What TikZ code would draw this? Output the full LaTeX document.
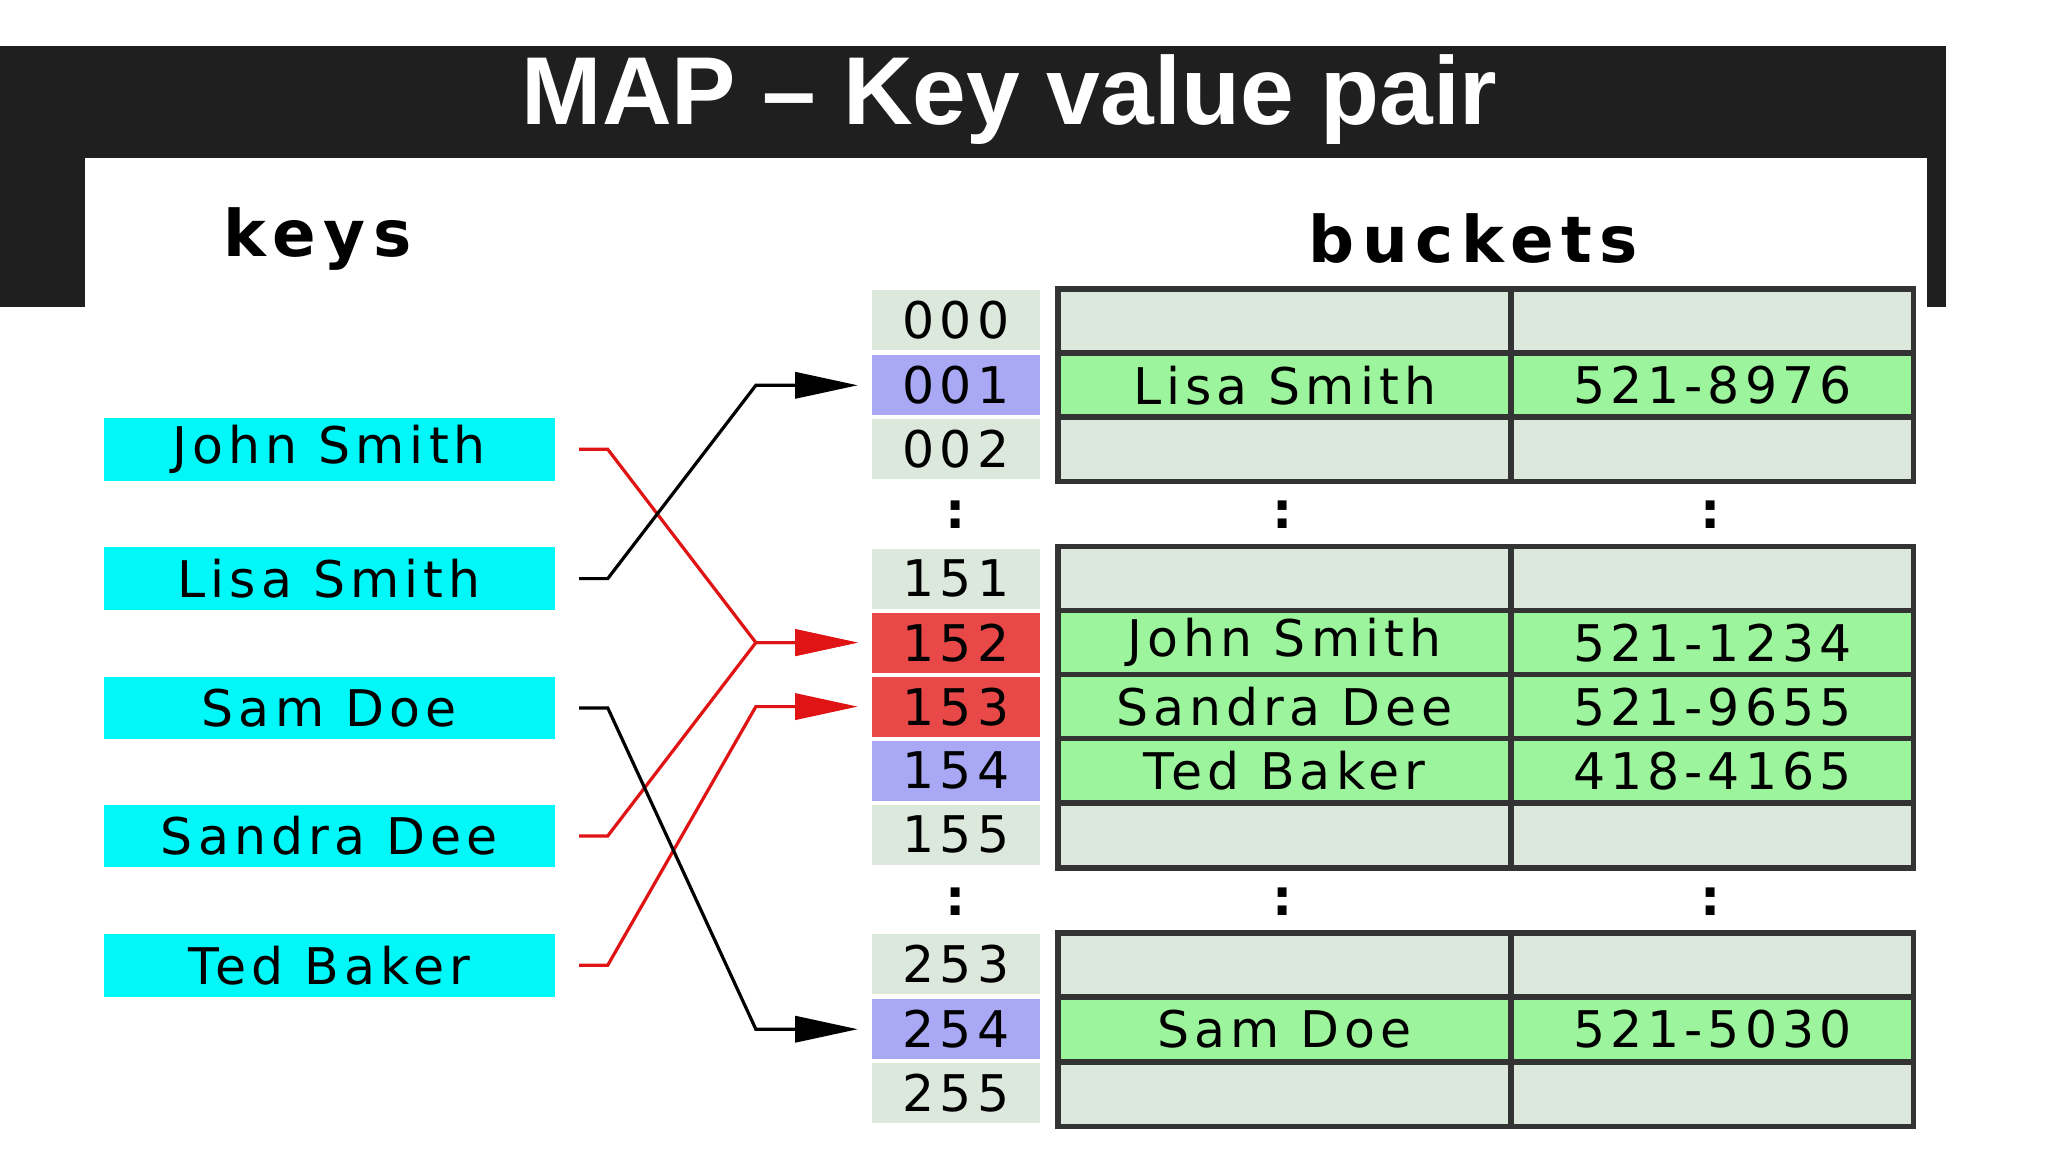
\documentclass[tikz,border=0pt]{standalone}
\usepackage{fontspec}
\setmainfont{DejaVu Sans}[LetterSpace=10]
\newfontfamily\titlefont{Liberation Sans}
\newfontfamily\hdrfont{DejaVu Sans}[LetterSpace=12]
\usetikzlibrary{arrows.meta}
\definecolor{keycyan}{HTML}{00F8F8}
\definecolor{pale}{HTML}{DDE8DD}
\definecolor{idxblue}{HTML}{A8A8F5}
\definecolor{idxred}{HTML}{E84848}
\definecolor{fullg}{HTML}{9CF59C}
\definecolor{redln}{HTML}{E01414}
\begin{document}
\begin{tikzpicture}[x=0.01cm,y=-0.01cm,
  keybox/.style={fill=keycyan,minimum width=3.45cm,minimum height=0.48cm,inner sep=0pt,font=\fontsize{11pt}{12pt}\selectfont},
  idx/.style={fill=pale,minimum width=1.29cm,minimum height=0.46cm,inner sep=0pt,font=\fontsize{11pt}{12pt}\selectfont},
  cellA/.style={draw=black!80,line width=1.2pt,minimum width=3.47cm,minimum height=0.493cm,inner sep=0pt,font=\fontsize{11pt}{12pt}\selectfont},
  cellB/.style={draw=black!80,line width=1.2pt,minimum width=3.08cm,minimum height=0.493cm,inner sep=0pt,font=\fontsize{11pt}{12pt}\selectfont},
  dots/.style={font=\bfseries\fontsize{11pt}{12pt}\selectfont},
  hdr/.style={font=\hdrfont\bfseries\fontsize{14pt}{15pt}\selectfont},
  conn/.style={line width=0.7pt,-{Triangle[length=0.48cm,width=0.2cm]}},
]
\useasboundingbox (0,0) rectangle (1568,882);
\fill[white] (0,0) rectangle (1568,882);
\fill[black!88] (0,35) rectangle (1490,235);
\fill[white] (65,121) rectangle (1475,882);
\node[text=white,font=\titlefont\bfseries\fontsize{21pt}{23pt}\selectfont] (title) at (773,76) {MAP – Key value pair};
\node[hdr] (hk) at (243,183) {keys};
\node[hdr] (hb) at (1128,183) {buckets};
% keys
\node[keybox] (js) at (252,344) {John Smith};
\node[keybox] (ls) at (252,443) {Lisa Smith};
\node[keybox] (sd) at (252,542) {Sam Doe};
\node[keybox] (sa) at (252,640) {Sandra Dee};
\node[keybox] (tb) at (252,739) {Ted Baker};
% indices
\node[idx] (i000) at (732,245) {000};
\node[idx,fill=idxblue] (i001) at (732,295) {001};
\node[idx] (i002) at (732,344) {002};
\node[dots] (d1) at (732,394) {:};
\node[idx] (i151) at (732,443) {151};
\node[idx,fill=idxred] (i152) at (732,492) {152};
\node[idx,fill=idxred] (i153) at (732,541) {153};
\node[idx,fill=idxblue] (i154) at (732,590) {154};
\node[idx] (i155) at (732,639) {155};
\node[dots] (d2) at (732,690) {:};
\node[idx] (i253) at (732,738) {253};
\node[idx,fill=idxblue] (i254) at (732,788) {254};
\node[idx] (i255) at (732,837) {255};
% buckets
\foreach \y/\n/\c/\a/\b in {246/a0/pale//,295/a1/fullg/Lisa Smith/521-8976,344/a2/pale//,
  443/b0/pale//,492/b1/fullg/John Smith/521-1234,541/b2/fullg/Sandra Dee/521-9655,590/b3/fullg/Ted Baker/418-4165,640/b4/pale//,
  739/c0/pale//,788/c1/fullg/Sam Doe/521-5030,838/c2/pale//}{
  \node[cellA,fill=\c] (n\n) at (983.5,\y) {\a};
  \node[cellB,fill=\c] (p\n) at (1311,\y) {\b};
}
\node[dots] (d3) at (982,394) {:};
\node[dots] (d4) at (1310,394) {:};
\node[dots] (d5) at (982,690) {:};
\node[dots] (d6) at (1310,690) {:};
% connectors
\draw[conn,redln] ([xshift=0.18cm]js.east) -- ++(22,0) -- ([xshift=-0.88cm]i152.west) -- ([xshift=-0.1cm]i152.west);
\draw[conn,redln] ([xshift=0.18cm]sa.east) -- ++(22,0) -- ([xshift=-0.88cm]i152.west) -- ([xshift=-0.1cm]i152.west);
\draw[conn,redln] ([xshift=0.18cm]tb.east) -- ++(22,0) -- ([xshift=-0.88cm]i153.west) -- ([xshift=-0.1cm]i153.west);
\draw[conn,black] ([xshift=0.18cm]ls.east) -- ++(22,0) -- ([xshift=-0.88cm]i001.west) -- ([xshift=-0.1cm]i001.west);
\draw[conn,black] ([xshift=0.18cm]sd.east) -- ++(22,0) -- ([xshift=-0.88cm]i254.west) -- ([xshift=-0.1cm]i254.west);
\end{tikzpicture}
\end{document}
